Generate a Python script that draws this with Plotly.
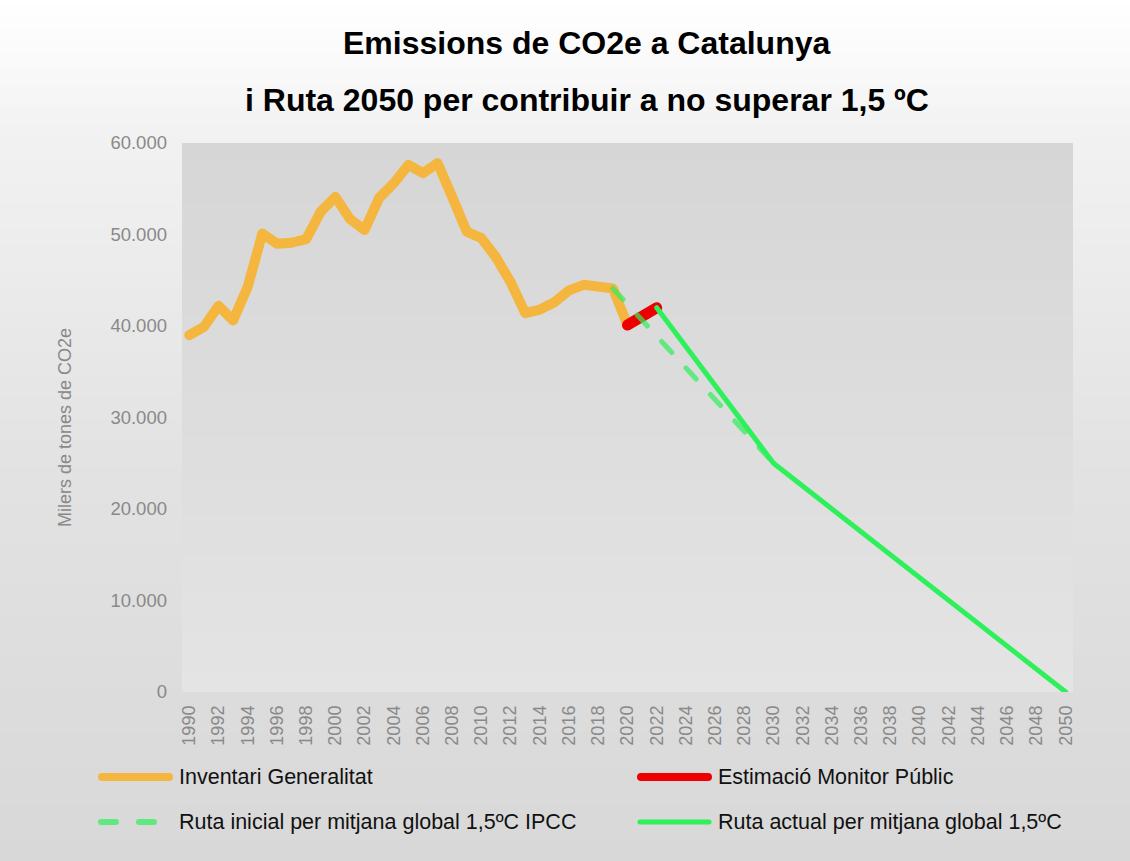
import plotly.graph_objects as go

# ---------------- data ----------------
years_inventari = list(range(1990, 2021))
inventari = [39000, 39900, 42200, 40600, 44300, 50100, 49000, 49100, 49500, 52500,
             54100, 51700, 50500, 54000, 55600, 57600, 56700, 57800, 54100, 50300,
             49600, 47500, 44800, 41400, 41800, 42600, 43900, 44500, 44300, 44100,
             40100]
years_monitor = [2020, 2021, 2022]
monitor = [40100, 40900, 42000]
years_ipcc = [2019, 2030]
ipcc = [44100, 25000]
years_actual = [2022, 2030, 2050]
actual = [42000, 25000, 0]
y_ticks = [0, 10000, 20000, 30000, 40000, 50000, 60000]

names = ["Inventari Generalitat", "Estimació Monitor Públic",
         "Ruta inicial per mitjana global 1,5ºC IPCC",
         "Ruta actual per mitjana global 1,5ºC"]
title_1 = "Emissions de CO2e a Catalunya"
title_2 = "i Ruta 2050 per contribuir a no superar 1,5 ºC"
y_title = "Milers de tones de CO2e"

# ---------------- styles ----------------
C_ORANGE = "#F4B63F"
C_RED = "#EE0000"
C_GREEN = "#2EF05A"
C_GREEN_DASH = "rgba(46,240,90,0.7)"
GRAY_TXT = "#898989"
FONT = "Liberation Sans, Arial, sans-serif"

W, H = 1130, 861
L, R, T, B = 182, 57, 143, 169
PW = W - L - R
PH = H - T - B


def px_x(x):
    return (x - L) / PW


def px_y(y):
    return (H - B - y) / PH


def interp(p, stops):
    for (a, ga), (b, gb) in zip(stops[:-1], stops[1:]):
        if a <= p <= b:
            return ga + (gb - ga) * (p - a) / (b - a)
    return stops[-1][1]


shapes = []
# page gradient
paper_stops = [(0, 255), (60, 250), (130, 242), (450, 227), (861, 216)]
step = 6
p = 0
while p < H:
    p1 = min(p + step, H)
    g = round(interp((p + p1) / 2, paper_stops))
    shapes.append(dict(type="rect", xref="paper", yref="paper", layer="below",
                       x0=px_x(-2), x1=px_x(W + 2), y0=px_y(p1 + 0.6), y1=px_y(p - 0.6),
                       fillcolor=f"rgb({g},{g},{g})", line=dict(width=0)))
    p = p1
# plot area gradient
plot_stops = [(T, 214), (H - B, 228)]
p = T
while p < H - B:
    p1 = min(p + step, H - B)
    g = round(interp((p + p1) / 2, plot_stops))
    shapes.append(dict(type="rect", xref="paper", yref="paper", layer="below",
                       x0=0, x1=1, y0=px_y(min(p1 + 0.6, H - B)), y1=px_y(max(p - 0.6, T)),
                       fillcolor=f"rgb({g},{g},{g})", line=dict(width=0)))
    p = p1

# custom legend swatches
row1, row2 = 777, 822
shapes += [
    dict(type="line", xref="paper", yref="paper", x0=px_x(102), x1=px_x(169),
         y0=px_y(row1), y1=px_y(row1), line=dict(color=C_ORANGE, width=8)),
    dict(type="line", xref="paper", yref="paper", x0=px_x(641), x1=px_x(708),
         y0=px_y(row1), y1=px_y(row1), line=dict(color=C_RED, width=8)),
    dict(type="line", xref="paper", yref="paper", x0=px_x(101), x1=px_x(154),
         y0=px_y(row2), y1=px_y(row2),
         line=dict(color=C_GREEN_DASH, width=6, dash="15px,23px")),
    dict(type="line", xref="paper", yref="paper", x0=px_x(640), x1=px_x(709),
         y0=px_y(row2), y1=px_y(row2), line=dict(color=C_GREEN, width=5)),
]

fig = go.Figure()
fig.add_trace(go.Scatter(x=years_inventari, y=inventari, mode="lines", name=names[0],
                         line=dict(color=C_ORANGE, width=10)))
fig.add_trace(go.Scatter(x=years_monitor, y=monitor, mode="lines", name=names[1],
                         line=dict(color=C_RED, width=11)))
fig.add_trace(go.Scatter(x=years_ipcc, y=ipcc, mode="lines", name=names[2],
                         line=dict(color=C_GREEN_DASH, width=5, dash="15px,21px")))
fig.add_trace(go.Scatter(x=years_actual, y=actual, mode="lines", name=names[3],
                         line=dict(color=C_GREEN, width=5)))

annotations = [
    dict(text=f"<b>{title_1}</b>", xref="paper", yref="paper", x=px_x(586.5), y=px_y(43),
         xanchor="center", yanchor="middle", showarrow=False,
         font=dict(family=FONT, size=32, color="#000000")),
    dict(text=f"<b>{title_2}</b>", xref="paper", yref="paper", x=px_x(586.5), y=px_y(100),
         xanchor="center", yanchor="middle", showarrow=False,
         font=dict(family=FONT, size=32, color="#000000")),
    dict(text=y_title, xref="paper", yref="paper", x=px_x(65), y=px_y(427),
         xanchor="center", yanchor="middle", showarrow=False, textangle=-90,
         font=dict(family=FONT, size=18, color=GRAY_TXT)),
    dict(text=names[0], xref="paper", yref="paper", x=px_x(177), y=px_y(row1),
         xanchor="left", yanchor="middle", showarrow=False,
         font=dict(family=FONT, size=21.5, color="#111111")),
    dict(text=names[1], xref="paper", yref="paper", x=px_x(716), y=px_y(row1),
         xanchor="left", yanchor="middle", showarrow=False,
         font=dict(family=FONT, size=21.5, color="#111111")),
    dict(text=names[2], xref="paper", yref="paper", x=px_x(177), y=px_y(row2),
         xanchor="left", yanchor="middle", showarrow=False,
         font=dict(family=FONT, size=21.5, color="#111111")),
    dict(text=names[3], xref="paper", yref="paper", x=px_x(716), y=px_y(row2),
         xanchor="left", yanchor="middle", showarrow=False,
         font=dict(family=FONT, size=21.5, color="#111111")),
]

fig.update_layout(
    width=W, height=H,
    margin=dict(l=L, r=R, t=T, b=B, pad=0),
    paper_bgcolor="#dddddd",
    plot_bgcolor="rgba(0,0,0,0)",
    separators=",.",
    showlegend=False,
    shapes=shapes,
    annotations=annotations,
    font=dict(family=FONT, color=GRAY_TXT),
    xaxis=dict(range=[1989.5, 2050.5], tick0=1990, dtick=2, tickangle=-90,
               showgrid=False, zeroline=False, showline=False, ticks="",
               ticklabelstandoff=9,
               tickfont=dict(family=FONT, size=18, color=GRAY_TXT)),
    yaxis=dict(range=[0, 60000], tickvals=y_ticks, tickformat=",d",
               showgrid=False, zeroline=False, showline=False, ticks="",
               ticklabelstandoff=14,
               tickfont=dict(family=FONT, size=18.5, color=GRAY_TXT)),
)

post = ("var s=document.createElement('style');"
        "s.textContent='html,body{margin:0;padding:0;overflow:hidden}"
        ".js-line{stroke-linejoin:round;stroke-linecap:round}"
        ".shapelayer path{stroke-linecap:round}';"
        "document.head.appendChild(s);")
fig.write_html("out.html", config={"displayModeBar": False}, post_script=post)
